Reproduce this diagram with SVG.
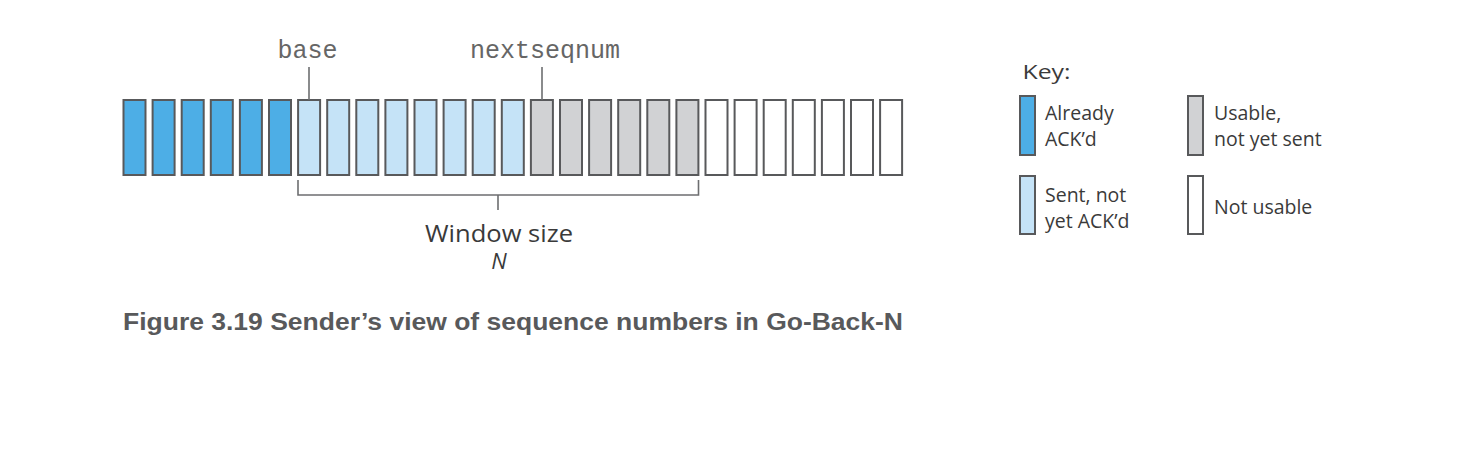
<svg xmlns="http://www.w3.org/2000/svg" width="1464" height="458" viewBox="0 0 1464 458">
<style>
.b{stroke:#58595b;stroke-width:2}
.ack{fill:#4daee6}
.sent{fill:#c5e3f7}
.usable{fill:#d1d2d4}
.unusable{fill:#ffffff}
.ln{stroke:#6d6e70;stroke-width:1.6;fill:none}
.mono{font-family:"Liberation Mono",monospace;font-size:25px;fill:#666}
.sans{font-family:"Open Sans","Noto Sans",sans-serif;fill:#3a3a3a}
.key{font-size:19.5px}
.cap{font-family:"Liberation Sans",Arial,sans-serif;font-weight:bold;font-size:24.5px;fill:#58595b}
</style>
<rect width="1464" height="458" fill="#fff"/>
<g id="sequence">
<rect class="b ack" x="123.5" y="100" width="22" height="75"/>
<rect class="b ack" x="152.6" y="100" width="22" height="75"/>
<rect class="b ack" x="181.7" y="100" width="22" height="75"/>
<rect class="b ack" x="210.8" y="100" width="22" height="75"/>
<rect class="b ack" x="239.9" y="100" width="22" height="75"/>
<rect class="b ack" x="269.0" y="100" width="22" height="75"/>
<rect class="b sent" x="298.1" y="100" width="22" height="75"/>
<rect class="b sent" x="327.2" y="100" width="22" height="75"/>
<rect class="b sent" x="356.3" y="100" width="22" height="75"/>
<rect class="b sent" x="385.4" y="100" width="22" height="75"/>
<rect class="b sent" x="414.5" y="100" width="22" height="75"/>
<rect class="b sent" x="443.6" y="100" width="22" height="75"/>
<rect class="b sent" x="472.7" y="100" width="22" height="75"/>
<rect class="b sent" x="501.8" y="100" width="22" height="75"/>
<rect class="b usable" x="530.9" y="100" width="22" height="75"/>
<rect class="b usable" x="560.0" y="100" width="22" height="75"/>
<rect class="b usable" x="589.1" y="100" width="22" height="75"/>
<rect class="b usable" x="618.2" y="100" width="22" height="75"/>
<rect class="b usable" x="647.3" y="100" width="22" height="75"/>
<rect class="b usable" x="676.4" y="100" width="22" height="75"/>
<rect class="b unusable" x="705.5" y="100" width="22" height="75"/>
<rect class="b unusable" x="734.6" y="100" width="22" height="75"/>
<rect class="b unusable" x="763.7" y="100" width="22" height="75"/>
<rect class="b unusable" x="792.8" y="100" width="22" height="75"/>
<rect class="b unusable" x="821.9" y="100" width="22" height="75"/>
<rect class="b unusable" x="851.0" y="100" width="22" height="75"/>
<rect class="b unusable" x="880.1" y="100" width="22" height="75"/>
</g>
<g id="base">
<text class="mono" x="307.5" y="58" text-anchor="middle">base</text>
</g>
<g id="nextseqnum">
<text class="mono" x="545" y="58" text-anchor="middle">nextseqnum</text>
</g>
<g id="window">
<text class="sans" x="499" y="241.5" font-size="23.5" text-anchor="middle" textLength="148" lengthAdjust="spacingAndGlyphs">Window size</text>
<text class="sans" x="499" y="269" font-size="22" font-style="italic" text-anchor="middle">N</text>
</g>
<g id="connectors">
<line class="ln" x1="309" y1="67" x2="309" y2="100"/>
<line class="ln" x1="542" y1="67" x2="542" y2="100"/>
<path class="ln" d="M298 180 V195 H698.5 V180 M498 195 V210"/>
</g>
<g id="key">
<text class="sans" x="1022.5" y="79" font-size="20.5" textLength="48" lengthAdjust="spacingAndGlyphs">Key:</text>
<rect class="b ack" x="1020" y="96" width="15" height="59"/>
<text class="sans key" x="1045" y="119.5">Already</text>
<text class="sans key" x="1045" y="146">ACK’d</text>
<rect class="b usable" x="1188" y="96" width="15" height="59"/>
<text class="sans key" x="1214" y="119.5">Usable,</text>
<text class="sans key" x="1214" y="146">not yet sent</text>
<rect class="b sent" x="1020" y="176" width="15" height="58"/>
<text class="sans key" x="1045" y="201.5">Sent, not</text>
<text class="sans key" x="1045" y="227.5">yet ACK’d</text>
<rect class="b unusable" x="1188" y="176" width="15" height="58"/>
<text class="sans key" x="1214" y="214">Not usable</text>
</g>
<g id="caption">
<text class="cap" x="123" y="330" textLength="780" lengthAdjust="spacingAndGlyphs">Figure 3.19 Sender’s view of sequence numbers in Go-Back-N</text>
</g>
</svg>
